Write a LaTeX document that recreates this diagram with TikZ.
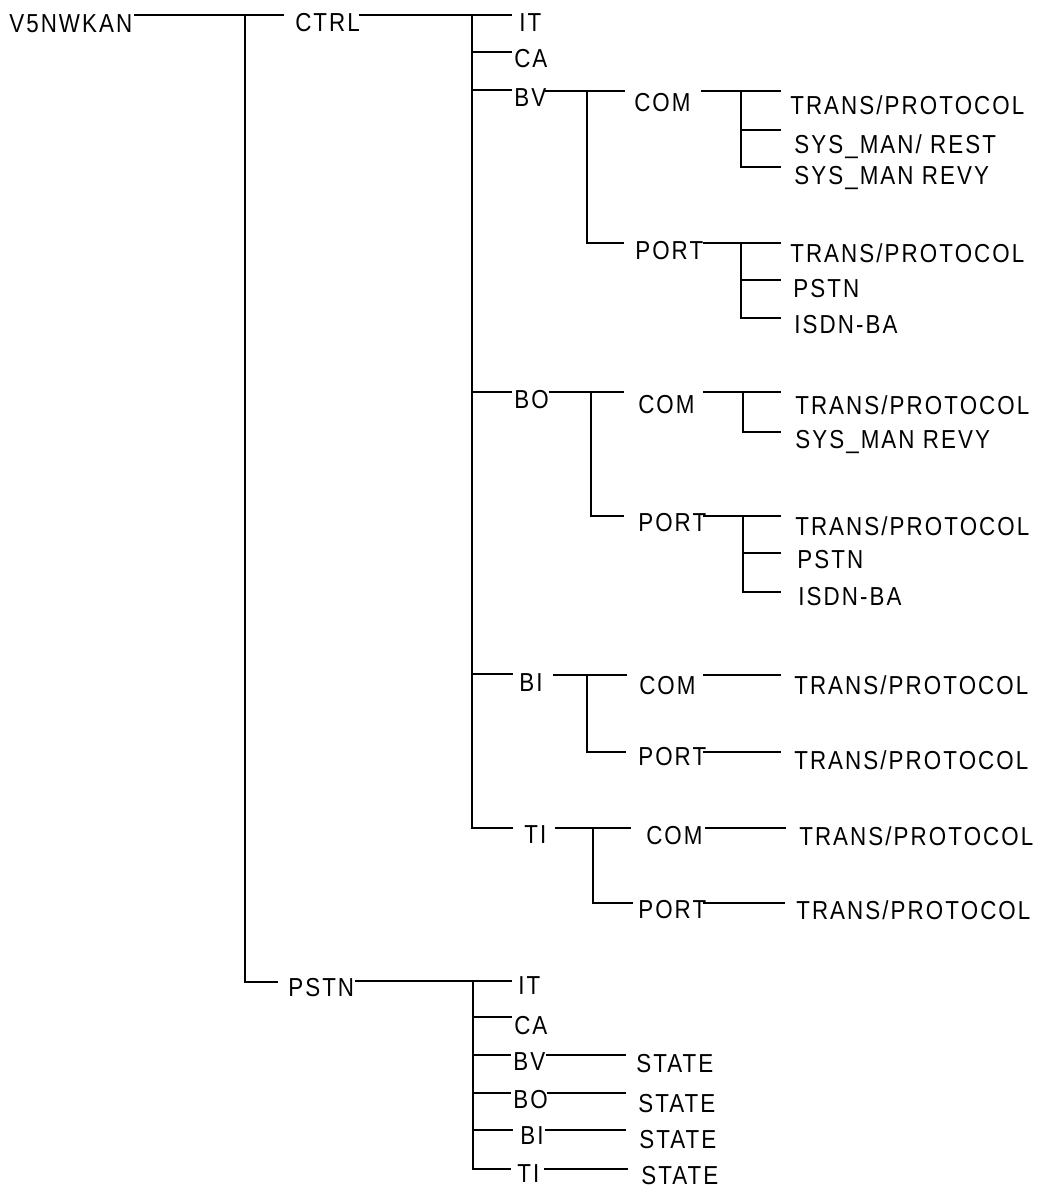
\documentclass[tikz,border=0pt]{standalone}
\usepackage{fontspec}
\setmainfont{Liberation Sans}[FakeStretch=0.86,LetterSpace=8]
\begin{document}
\begin{tikzpicture}[x=0.75pt,y=-0.75pt,
  lbl/.style={anchor=base west, inner sep=0pt, font=\fontsize{19.5pt}{22pt}\selectfont},
  ln/.style={line width=1.3pt, line cap=rect}]
\useasboundingbox (0,0) rectangle (1037,1190);
% ---------- labels ----------
\node[lbl] (root) at (9,32) {V5NWKAN};
\node[lbl] (ctrl) at (295,31) {CTRL};
\node[lbl] (pstn) at (288,996) {PSTN};
% CTRL children
\node[lbl] (it1) at (519,31) {IT};
\node[lbl] (ca1) at (514,67) {CA};
\node[lbl] (bv1) at (514,106) {BV};
\node[lbl] (bo1) at (514,408) {BO};
\node[lbl] (bi1) at (519,691) {BI};
\node[lbl] (ti1) at (524,843) {TI};
% BV
\node[lbl] (bvcom) at (634,111) {COM};
\node[lbl] (bvport) at (635,259) {PORT};
\node[lbl] (bvc1) at (790,114) {TRANS/PROTOCOL};
\node[lbl] (bvc2) at (794,153) {SYS\_MAN/ REST};
\node[lbl] (bvc3) at (794,184) {SYS\_MAN REVY};
\node[lbl] (bvp1) at (790,262) {TRANS/PROTOCOL};
\node[lbl] (bvp2) at (793,297) {PSTN};
\node[lbl] (bvp3) at (794,333) {ISDN-BA};
% BO
\node[lbl] (bocom) at (638,413) {COM};
\node[lbl] (boport) at (638,531) {PORT};
\node[lbl] (boc1) at (795,414) {TRANS/PROTOCOL};
\node[lbl] (boc2) at (795,448) {SYS\_MAN REVY};
\node[lbl] (bop1) at (795,535) {TRANS/PROTOCOL};
\node[lbl] (bop2) at (797,568) {PSTN};
\node[lbl] (bop3) at (798,605) {ISDN-BA};
% BI
\node[lbl] (bicom) at (639,694) {COM};
\node[lbl] (biport) at (638,765) {PORT};
\node[lbl] (bic1) at (794,694) {TRANS/PROTOCOL};
\node[lbl] (bip1) at (794,769) {TRANS/PROTOCOL};
% TI
\node[lbl] (ticom) at (646,844) {COM};
\node[lbl] (tiport) at (638,918) {PORT};
\node[lbl] (tic1) at (799,845) {TRANS/PROTOCOL};
\node[lbl] (tip1) at (796,919) {TRANS/PROTOCOL};
% PSTN children
\node[lbl] (it2) at (518,994) {IT};
\node[lbl] (ca2) at (514,1034) {CA};
\node[lbl] (bv2) at (513,1070) {BV};
\node[lbl] (bo2) at (513,1108) {BO};
\node[lbl] (bi2) at (520,1144) {BI};
\node[lbl] (ti2) at (517,1182) {TI};
\node[lbl] (st1) at (636,1072) {STATE};
\node[lbl] (st2) at (638,1112) {STATE};
\node[lbl] (st3) at (639,1148) {STATE};
\node[lbl] (st4) at (641,1184) {STATE};
% ---------- connectors ----------
\draw[ln] (135,15) -- (283,15);
\draw[ln] (245,15) -- (245,982) -- (277,982);
\draw[ln] (360,15) -- (511,15);
\draw[ln] (472,15) -- (472,828);
\draw[ln] (472,52) -- (511,52);
% BV
\draw[ln] (472,90) -- (511,90);
\draw[ln] (546,91) -- (624,91);
\draw[ln] (587,91) -- (587,243) -- (623,243);
\draw[ln] (702,91) -- (780,91);
\draw[ln] (741,91) -- (741,167) -- (780,167);
\draw[ln] (741,130) -- (780,130);
\draw[ln] (704,243) -- (780,243);
\draw[ln] (741,243) -- (741,318) -- (780,318);
\draw[ln] (741,280) -- (780,280);
% BO
\draw[ln] (472,392) -- (511,392);
\draw[ln] (550,392) -- (623,392);
\draw[ln] (591,392) -- (591,516) -- (623,516);
\draw[ln] (704,392) -- (780,392);
\draw[ln] (743,392) -- (743,432) -- (780,432);
\draw[ln] (704,516) -- (780,516);
\draw[ln] (743,516) -- (743,592) -- (780,592);
\draw[ln] (743,553) -- (780,553);
% BI
\draw[ln] (472,674) -- (512,674);
\draw[ln] (554,675) -- (626,675);
\draw[ln] (587,675) -- (587,752) -- (625,752);
\draw[ln] (704,675) -- (780,675);
\draw[ln] (704,752) -- (780,752);
% TI
\draw[ln] (472,828) -- (512,828);
\draw[ln] (556,828) -- (630,828);
\draw[ln] (593,828) -- (593,903) -- (632,903);
\draw[ln] (706,828) -- (785,828);
\draw[ln] (704,903) -- (784,903);
% PSTN
\draw[ln] (356,981) -- (511,981);
\draw[ln] (473,981) -- (473,1169);
\draw[ln] (473,1017) -- (511,1017);
\draw[ln] (473,1055) -- (510,1055);
\draw[ln] (547,1055) -- (625,1055);
\draw[ln] (473,1093) -- (510,1093);
\draw[ln] (548,1093) -- (625,1093);
\draw[ln] (473,1130) -- (512,1130);
\draw[ln] (546,1130) -- (625,1130);
\draw[ln] (473,1169) -- (510,1169);
\draw[ln] (545,1169) -- (627,1169);
\end{tikzpicture}
\end{document}
